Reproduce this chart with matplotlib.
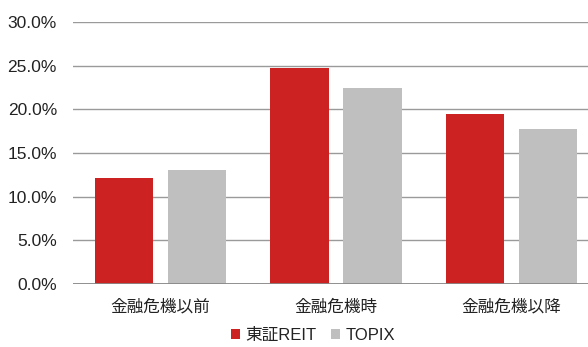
import numpy as np
import matplotlib.pyplot as plt
from matplotlib.ticker import FuncFormatter

plt.rcParams['font.family'] = ['Liberation Sans', 'Noto Sans CJK JP']

categories = ['金融危機以前', '金融危機時', '金融危機以降']
series_names = ['東証REIT', 'TOPIX']
reit = [12.1, 24.7, 19.5]
topix = [13.1, 22.4, 17.7]
colors = ['#cc2222', '#bfbfbf']

fig = plt.figure(figsize=(5.88, 3.47), dpi=100)
ax = fig.add_axes([0.1241, 0.1816, 0.8759, 0.755])

x = np.arange(len(categories))
w = 0.332
off = 0.208
ax.bar(x - off, reit, w, color=colors[0], label=series_names[0], zorder=3)
ax.bar(x + off, topix, w, color=colors[1], label=series_names[1], zorder=3)

ax.set_ylim(0, 30)
ax.set_xlim(-0.5, 2.436)
ax.set_yticks(np.arange(0, 31, 5))
ax.yaxis.set_major_formatter(FuncFormatter(lambda v, p: f"{v:.1f}%"))
ax.yaxis.grid(True, color='#9a9a9a', linewidth=1.0, zorder=0)
ax.set_axisbelow(True)
ax.axhline(0, color='#888888', linewidth=2, zorder=4)

for s in ax.spines.values():
    s.set_visible(False)
ax.tick_params(axis='y', length=0, pad=11.5, labelsize=12.5, labelcolor='#222222')
ax.tick_params(axis='x', length=0, pad=11, labelsize=12, labelcolor='#222222')
ax.set_xticks(x)
ax.set_xticklabels(categories)

fig.legend(loc='lower center', bbox_to_anchor=(0.532, -0.032), ncol=2, frameon=False,
           fontsize=12, handlelength=0.55, handleheight=0.55, handletextpad=0.3,
           columnspacing=0.9, labelcolor='#222222')

fig.savefig('out.png', dpi=100)
